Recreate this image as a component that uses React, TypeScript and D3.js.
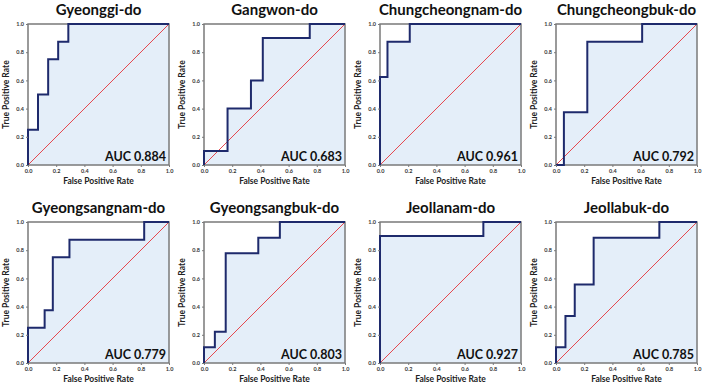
import React, { useEffect, useRef } from 'react';
import * as d3 from 'd3';

// ROC vertices per province (step-after corners)
const regions = [
  'Gyeonggi-do',
  'Gangwon-do',
  'Chungcheongnam-do',
  'Chungcheongbuk-do',
  'Gyeongsangnam-do',
  'Gyeongsangbuk-do',
  'Jeollanam-do',
  'Jeollabuk-do',
];

const fprGyeonggi = [0, 0, 0.071, 0.143, 0.214, 0.286, 1];
const tprGyeonggi = [0, 0.25, 0.5, 0.75, 0.875, 1, 1];

const fprGangwon = [0, 0, 0.167, 0.333, 0.417, 0.75, 1];
const tprGangwon = [0, 0.1, 0.4, 0.6, 0.9, 1, 1];

const fprChungnam = [0, 0, 0.053, 0.211, 1];
const tprChungnam = [0, 0.625, 0.875, 1, 1];

const fprChungbuk = [0, 0.056, 0.222, 0.611, 1];
const tprChungbuk = [0, 0.375, 0.875, 1, 1];

const fprGyeongnam = [0, 0, 0.118, 0.176, 0.294, 0.824, 1];
const tprGyeongnam = [0, 0.25, 0.375, 0.75, 0.875, 1, 1];

const fprGyeongbuk = [0, 0, 0.077, 0.154, 0.385, 0.538, 1];
const tprGyeongbuk = [0, 0.111, 0.222, 0.778, 0.889, 1, 1];

const fprJeonnam = [0, 0, 0.733, 1];
const tprJeonnam = [0, 0.9, 1, 1];

const fprJeonbuk = [0, 0, 0.067, 0.133, 0.267, 0.733, 1];
const tprJeonbuk = [0, 0.111, 0.333, 0.556, 0.889, 1, 1];

const aucValues = [0.884, 0.683, 0.961, 0.792, 0.779, 0.803, 0.927, 0.785];

const tickValues = [0, 0.2, 0.4, 0.6, 0.8, 1.0];

const curves = [
  [fprGyeonggi, tprGyeonggi],
  [fprGangwon, tprGangwon],
  [fprChungnam, tprChungnam],
  [fprChungbuk, tprChungbuk],
  [fprGyeongnam, tprGyeongnam],
  [fprGyeongbuk, tprGyeongbuk],
  [fprJeonnam, tprJeonnam],
  [fprJeonbuk, tprJeonbuk],
];

const font = 'Lato, "Open Sans", sans-serif';

const RocGrid: React.FC = () => {
  const svgRef = useRef<SVGSVGElement | null>(null);

  useEffect(() => {
    if (!svgRef.current) return;
    const svg = d3.select(svgRef.current);
    svg.selectAll('*').remove();

    const width = 704;
    const height = 388;
    svg.attr('viewBox', `0 0 ${width} ${height}`);

    const size = 141;
    const colX = [28, 204, 380, 556];
    const rowY = [24, 222];

    regions.forEach((name, i) => {
      const left = colX[i % 4];
      const top = rowY[Math.floor(i / 4)];
      const [fpr, tpr] = curves[i];
      const pts = fpr.map((f, k) => [f, tpr[k]] as [number, number]);

      const x = d3.scaleLinear().domain([0, 1]).range([0, size]);
      const y = d3.scaleLinear().domain([0, 1]).range([size, 0]);

      const g = svg.append('g').attr('transform', `translate(${left},${top})`);

      const area = d3
        .area<[number, number]>()
        .x((d) => x(d[0]))
        .y0(y(0))
        .y1((d) => y(d[1]))
        .curve(d3.curveStepAfter);
      const line = d3
        .line<[number, number]>()
        .x((d) => x(d[0]))
        .y((d) => y(d[1]))
        .curve(d3.curveStepAfter);

      g.append('path').datum(pts).attr('d', area).attr('fill', '#e4eef9');

      // chance line
      g.append('line')
        .attr('x1', x(0))
        .attr('y1', y(0))
        .attr('x2', x(1))
        .attr('y2', y(1))
        .attr('stroke', '#e5484f')
        .attr('stroke-width', 1);

      g.append('rect')
        .attr('width', size)
        .attr('height', size)
        .attr('fill', 'none')
        .attr('stroke', '#7a7a7a')
        .attr('stroke-width', 1.5);

      g.append('path')
        .datum(pts)
        .attr('d', line)
        .attr('fill', 'none')
        .attr('stroke', '#1e2a6c')
        .attr('stroke-width', 2);

      const xAxis = d3.axisBottom(x).tickValues(tickValues).tickFormat(d3.format('.1f')).tickSize(2).tickPadding(2);
      const yAxis = d3.axisLeft(y).tickValues(tickValues).tickFormat(d3.format('.1f')).tickSize(2).tickPadding(2);

      const gx = g.append('g').attr('transform', `translate(0,${size})`).call(xAxis);
      const gy = g.append('g').call(yAxis);
      [gx, gy].forEach((ax) => {
        ax.select('.domain').remove();
        ax.selectAll('line').attr('stroke', '#7a7a7a');
        ax.selectAll('text')
          .attr('font-size', '5.5px')
          .attr('font-weight', 700)
          .attr('font-family', font)
          .attr('fill', '#333');
      });

      g.append('text')
        .attr('x', size / 2)
        .attr('y', -9)
        .attr('text-anchor', 'middle')
        .attr('font-family', font)
        .attr('font-weight', 700)
        .attr('font-size', '15px')
        .attr('fill', '#111')
        .text(name);

      g.append('text')
        .attr('x', size / 2)
        .attr('y', size + 19)
        .attr('text-anchor', 'middle')
        .attr('font-family', font)
        .attr('font-weight', 700)
        .attr('font-size', '8.5px')
        .attr('fill', '#222')
        .text('False Positive Rate');

      g.append('text')
        .attr('transform', `translate(-19,${size / 2}) rotate(-90)`)
        .attr('text-anchor', 'middle')
        .attr('font-family', font)
        .attr('font-weight', 700)
        .attr('font-size', '8.5px')
        .attr('fill', '#222')
        .text('True Positive Rate');

      g.append('text')
        .attr('x', size - 3)
        .attr('y', size - 4.5)
        .attr('text-anchor', 'end')
        .attr('font-family', font)
        .attr('font-weight', 700)
        .attr('font-size', '12.5px')
        .attr('fill', '#111')
        .text(`AUC ${aucValues[i].toFixed(3)}`);
    });
  }, []);

  return (
    <svg
      ref={svgRef}
      width={704}
      height={388}
      style={{ position: 'absolute', left: 0, top: 0, background: '#fff' }}
    />
  );
};

export default function App() {
  return <RocGrid />;
}
